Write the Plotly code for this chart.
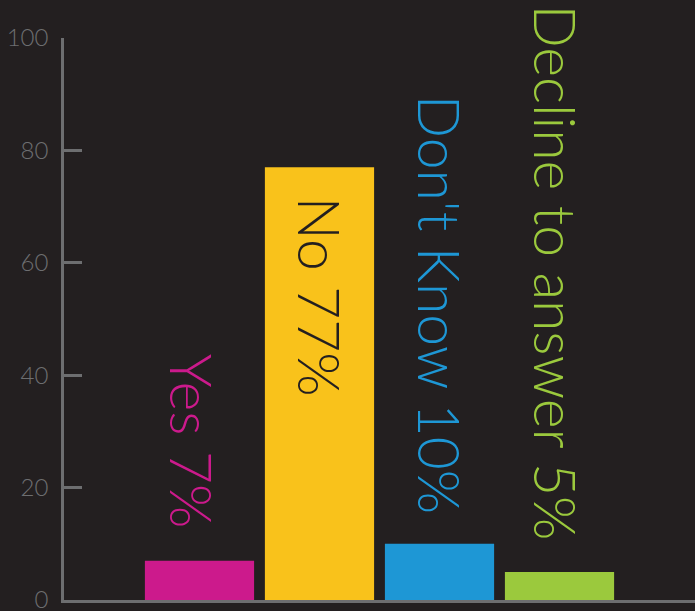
import plotly.graph_objects as go

categories = ["Yes", "No", "Don't Know", "Decline to answer"]
values = [7, 77, 10, 5]
labels = ["Yes 7%", "No 77%", "Don't Know 10%", "Decline to answer 5%"]
colors = ["#CC1A8C", "#F9C21B", "#1E97D5", "#9BC93D"]
y_ticks = [0, 20, 40, 60, 80, 100]

BG = "#231F20"
GRAY = "#6D6E70"
FONT = "Lato"

fig = go.Figure(go.Bar(
    x=categories, y=values, marker=dict(color=colors, line=dict(width=0)),
    width=0.91, hoverinfo="skip",
))

inside = [False, True, False, False]
xshifts = [-8, 0, 0, -3]
yshifts = [30, -27, 28, 30]
for cat, val, lab, col, ins, xs, ys in zip(categories, values, labels, colors, inside, xshifts, yshifts):
    fig.add_annotation(
        x=cat, y=val, text=lab, textangle=90, showarrow=False,
        xanchor="center", yanchor="top" if ins else "bottom",
        yshift=ys, xshift=xs,
        font=dict(family=FONT, size=57, color=BG if ins else col, weight=300),
    )

fig.update_layout(
    template="none",
    width=695, height=611,
    margin=dict(l=64, r=0, t=38, b=11, autoexpand=False),
    paper_bgcolor=BG, plot_bgcolor=BG,
    showlegend=False,
    xaxis=dict(range=[-1.129, 4.129], showticklabels=False, ticks="",
               showgrid=False, zeroline=False, showline=True, automargin=False,
               linecolor=GRAY, linewidth=2.5),
    yaxis=dict(range=[0, 100], tickvals=y_ticks, ticks="inside", ticklen=18,
               tickwidth=2.5, tickcolor=GRAY, showgrid=False, zeroline=False,
               showline=True, linecolor=GRAY, linewidth=2.5, automargin=False,
               ticklabelstandoff=8, ticklabeloverflow="allow",
               tickfont=dict(family=FONT, size=24, color=GRAY, weight=300)),
)

fig.write_html(
    "out.html",
    config={"displayModeBar": False},
    post_script="document.body.style.margin='0';document.body.style.background='#231F20';document.body.style.overflow='hidden';",
)
